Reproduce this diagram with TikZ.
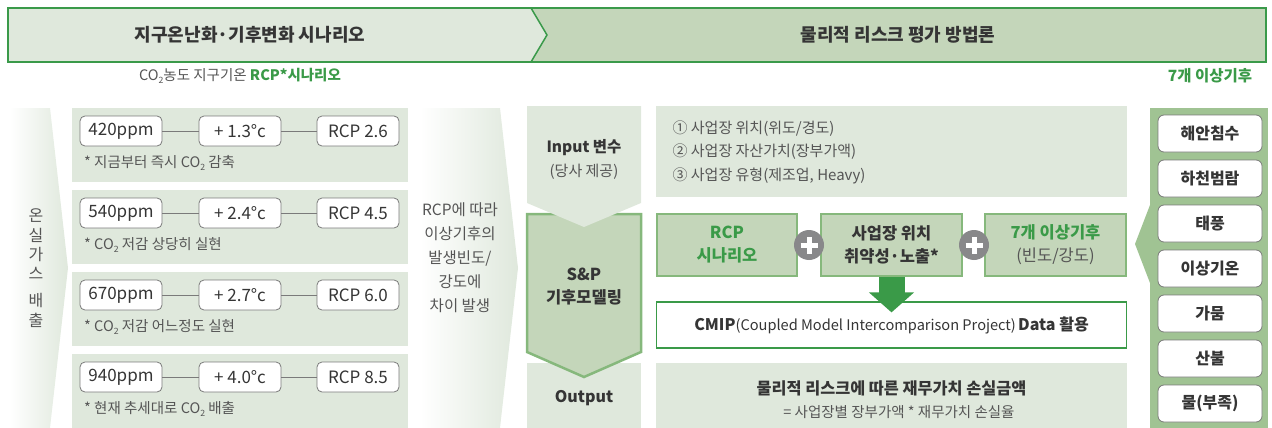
\documentclass[tikz,border=0pt]{standalone}
\usepackage{fontspec}
\usepackage{graphicx}
\setmainfont{Noto Sans CJK KR}
\usetikzlibrary{arrows.meta}
\definecolor{lightg}{HTML}{DFE8DC}
\definecolor{midg}{HTML}{C4D6BA}
\definecolor{bordg}{HTML}{86B87C}
\definecolor{headg}{HTML}{3A9A4A}
\definecolor{greentxt}{HTML}{3A9A48}
\definecolor{rightg}{HTML}{A0C393}
\definecolor{darktxt}{HTML}{353535}
\definecolor{graytxt}{HTML}{555555}
\definecolor{boxgray}{HTML}{7A7A7A}
\definecolor{plusgray}{HTML}{88888A}
\newcommand\cotwo{CO\raisebox{-0.25em}{\scalebox{0.6}{2}}}
\tikzset{
  fs/.style={font=\fontsize{#1}{#1}\selectfont},
  rowpanel/.style={fill=lightg, draw=none},
  rbox/.style={draw=boxgray, fill=white, rounded corners=5pt, line width=0.8pt,
    minimum width=82pt, minimum height=30pt, inner sep=0pt, text=darktxt, fs=17},
  link/.style={draw=boxgray, line width=0.8pt},
  note/.style={anchor=west, text=graytxt, fs=14.5, inner sep=0pt},
  gbox/.style={fill=midg, draw=bordg, line width=2.5pt, minimum width=140pt,
    minimum height=62pt, align=center, inner sep=0pt, font=\fontsize{16.5}{23}\selectfont\bfseries},
  plusc/.style={circle, fill=plusgray, minimum size=30pt, inner sep=0pt},
  hz/.style={rounded corners=6pt, draw=boxgray, fill=white, line width=0.8pt,
    minimum width=104pt, minimum height=37pt, inner sep=0pt, text=darktxt,
    font=\fontsize{16}{16}\selectfont\bfseries},
}
\begin{document}
\begin{tikzpicture}[x=1pt,y=-1pt]
\useasboundingbox (0,0) rectangle (1272,428);
% header
\fill[lightg] (8,8) -- (531,8) -- (547,35) -- (531,62) -- (8,62) -- cycle;
\fill[midg] (531,8) -- (1266,8) -- (1266,62) -- (531,62) -- (547,35) -- cycle;
\draw[headg, line width=1.5pt] (531,8) -- (547,35) -- (531,62);
\draw[headg, line width=2.5pt] (8,8) rectangle (1266,62);
\node[text=darktxt, font=\fontsize{18}{18}\selectfont\bfseries] (h1) at (250,35) {지구온난화·기후변화 시나리오};
\node[text=darktxt, font=\fontsize{18}{18}\selectfont\bfseries] (h2) at (898,35) {물리적 리스크 평가 방법론};
\node[text=graytxt, fs=14.5] (sub1) at (240,76) {\cotwo 농도 지구기온 \textcolor{greentxt}{\bfseries RCP*시나리오}};
\node[text=greentxt, font=\fontsize{15.5}{15.5}\selectfont\bfseries] (sub2) at (1210,76) {7개 이상기후};
% left gradient
\shade[left color=white, right color=lightg] (10,108) -- (50,108) -- (68,268) -- (50,428) -- (10,428) -- cycle;
\foreach \c/\yy in {온/216, 실/235, 가/254, 스/273, 배/301, 출/320}
  \node[text=graytxt, fs=16] at (36,\yy) {\c};
% rows
\foreach \i/\ppm/\tmp/\rcp/\nt in {
  0/420ppm/+ 1.3°c/RCP 2.6/* 지금부터 즉시 \cotwo\ 감축,
  1/540ppm/+ 2.4°c/RCP 4.5/* \cotwo\ 저감 상당히 실현,
  2/670ppm/+ 2.7°c/RCP 6.0/* \cotwo\ 저감 어느정도 실현,
  3/940ppm/+ 4.0°c/RCP 8.5/* 현재 추세대로 \cotwo\ 배출}{
  \pgfmathsetmacro\yo{108+82*\i}
  \fill[rowpanel] (72,\yo) rectangle (408,\yo+74);
  \node[rbox] (p\i) at (121,\yo+23) {\ppm};
  \node[rbox] (t\i) at (240,\yo+23) {\tmp};
  \node[rbox] (r\i) at (358,\yo+23) {\rcp};
  \draw[link] (p\i) -- (t\i);
  \draw[link] (t\i) -- (r\i);
  \node[note] (n\i) at (84,\yo+55) {\nt};
}
% middle gradient arrow
\shade[left color=white, right color=lightg] (420,108) -- (500,108) -- (518,268) -- (500,428) -- (420,428) -- cycle;
\node[text=graytxt, align=center, font=\fontsize{15.5}{24}\selectfont] (mid) at (460,258)
  {RCP에 따라\\이상기후의\\발생빈도/\\강도에\\차이 발생};
% input / S&P / output
\fill[lightg] (527,363) rectangle (641,428);
\filldraw[fill=midg, draw=bordg, line width=2.5pt] (527,214) -- (641,214) -- (641,352) -- (584,377) -- (527,352) -- cycle;
\fill[lightg] (527,106) -- (641,106) -- (641,203) -- (584,227) -- (527,203) -- cycle;
\node[text=darktxt, font=\fontsize{15.5}{15.5}\selectfont\bfseries] (inp) at (584,148) {Input 변수};
\node[text=graytxt, fs=15] (inp2) at (584,172) {(당사 제공)};
\node[text=darktxt, align=center, font=\fontsize{16.5}{23}\selectfont\bfseries] (sp) at (584,287) {S\&P\\기후모델링};
\node[text=darktxt, font=\fontsize{16}{16}\selectfont\bfseries] (out) at (584,398) {Output};
% input list
\fill[lightg] (656,106) rectangle (1127,197);
\node[text=graytxt, anchor=west, align=left, font=\fontsize{15}{23.5}\selectfont] (list) at (669,152)
  {① 사업장 위치(위도/경도)\\② 사업장 자산가치(장부가액)\\③ 사업장 유형(제조업, Heavy)};
% three boxes
\node[gbox, text=greentxt, minimum width=140pt] (ga) at (727,245) {RCP\\시나리오};
\node[gbox, text=darktxt, minimum width=141pt] (gb) at (891.5,245) {사업장 위치\\취약성·노출*};
\node[gbox, text=greentxt, minimum width=141pt] (gc) at (1055.5,245) {7개 이상기후\\{\mdseries\color{graytxt}(빈도/강도)}};
\foreach \n/\xx in {q1/809, q2/974}{
  \node[plusc] (\n) at (\xx,245) {};
  \draw[white, line width=5pt] ([xshift=-8.5pt]\n.center) -- ([xshift=8.5pt]\n.center);
  \draw[white, line width=5pt] ([yshift=-8.5pt]\n.center) -- ([yshift=8.5pt]\n.center);
}
% CMIP
\node[draw=greentxt, line width=1.2pt, fill=white, minimum width=470pt, minimum height=46pt, text=darktxt, inner sep=0pt] (cmip) at (891.5,325)
  {{\fontsize{16}{16}\selectfont\bfseries CMIP}{\fontsize{14.6}{14.6}\selectfont(Coupled Model Intercomparison Project)} {\fontsize{16}{16}\selectfont\bfseries Data 활용}};
\draw[greentxt, line width=26pt, -{Triangle[width=44pt,length=20pt]}, shorten >=-11pt] (gb.south) -- (cmip.north);
% output panel
\fill[lightg] (656,363) rectangle (1127,428);
\node[text=darktxt, font=\fontsize{16.3}{16.3}\selectfont\bfseries] (res1) at (891.5,388) {물리적 리스크에 따른 재무가치 손실금액};
\node[text=graytxt, fs=14.5] (res2) at (899,412) {= 사업장별 장부가액 * 재무가치 손실율};
% right column
\fill[rightg] (1150,108) rectangle (1268,428);
\fill[rightg] (1150,205) -- (1135,244) -- (1150,283) -- cycle;
\foreach \k/\w in {0/해안침수, 1/하천범람, 2/태풍, 3/이상기온, 4/가뭄, 5/산불, 6/물(부족)}{
  \node[hz] (z\k) at (1210,133.5+45*\k) {\w};
}
\end{tikzpicture}
\end{document}
